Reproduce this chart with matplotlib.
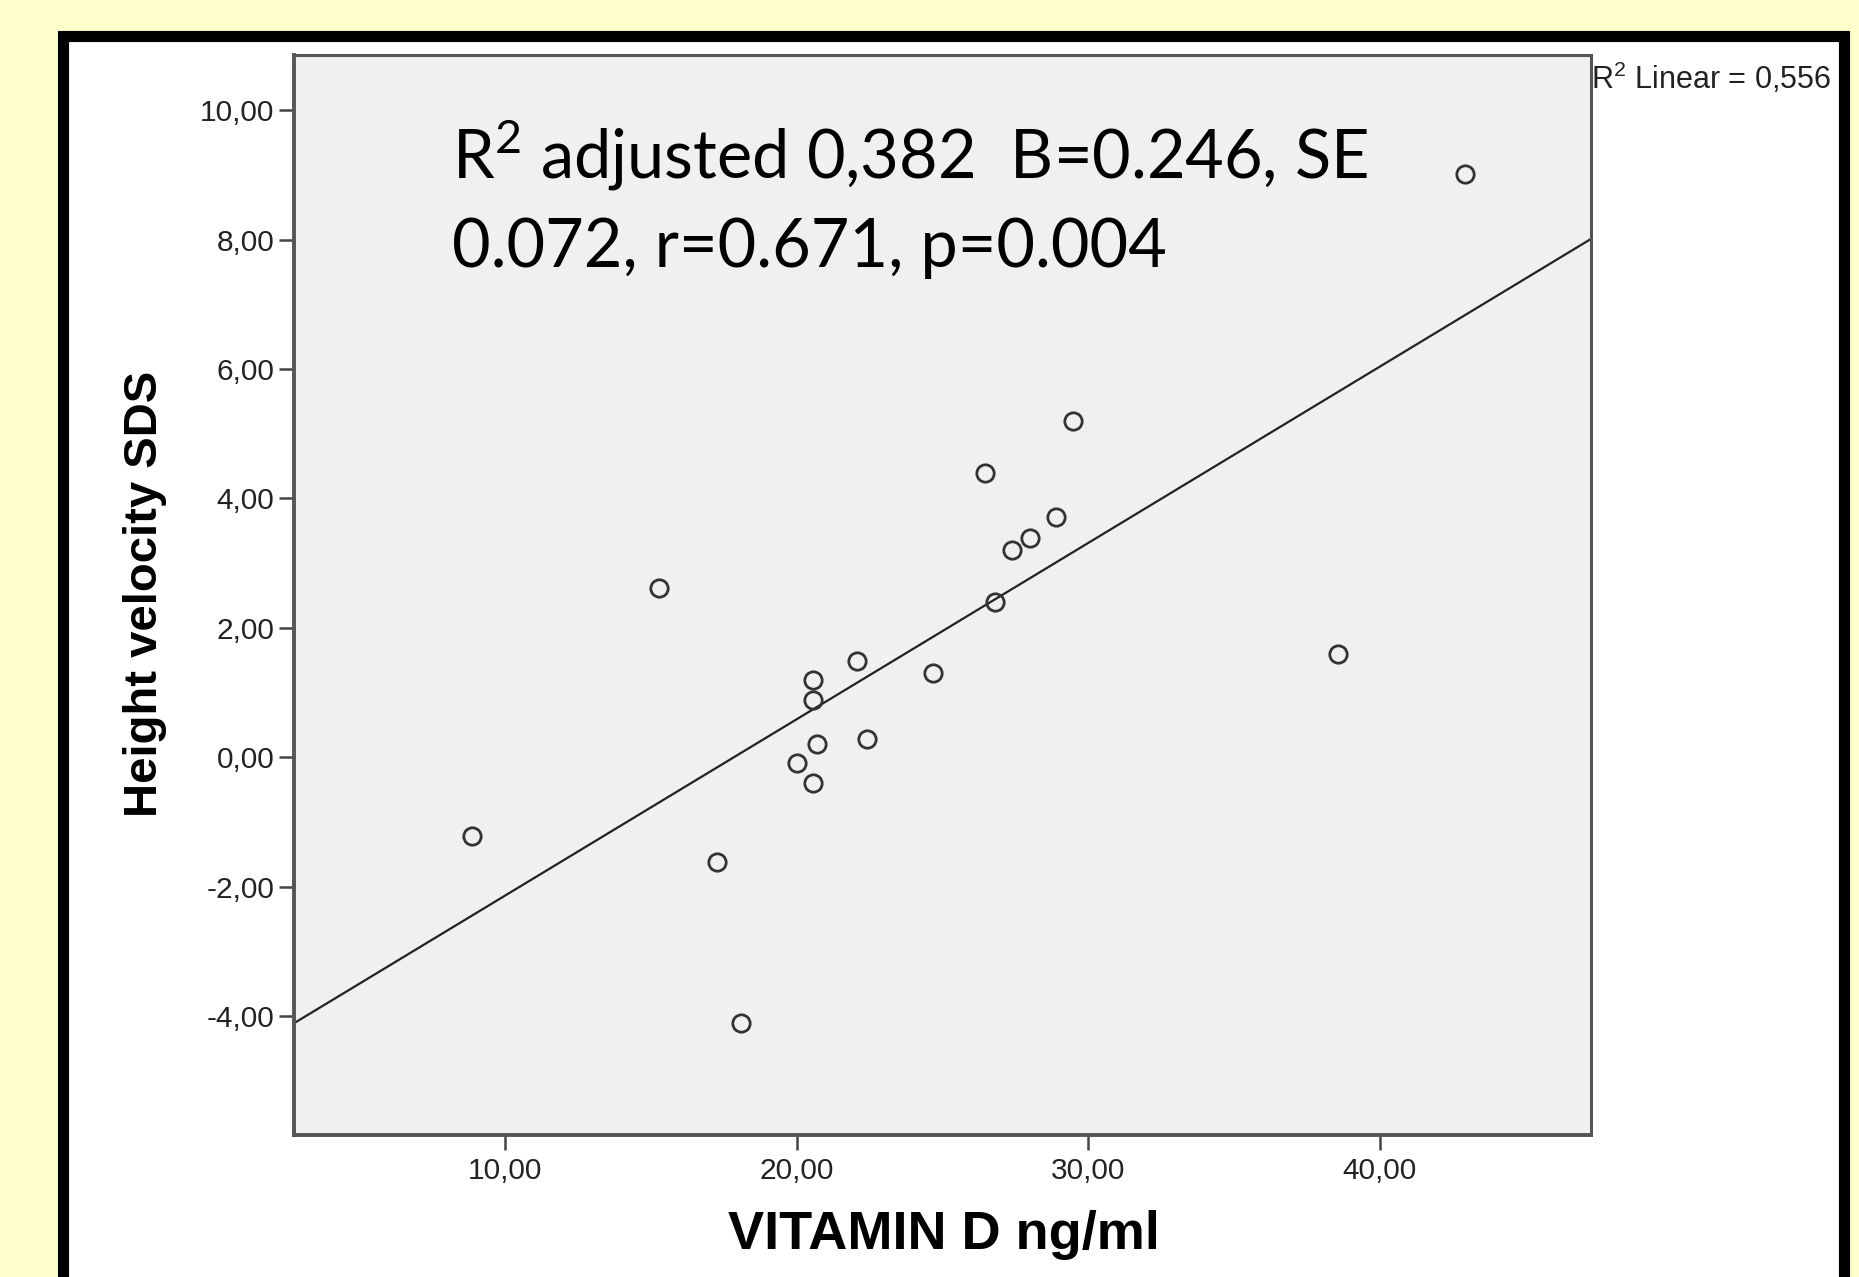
import numpy as np
import matplotlib.pyplot as plt
from matplotlib.patches import Rectangle

# values (VITAMIN D vs height velocity SDS)
vit_d = [42.93, 29.47, 26.46, 28.90, 28.01, 27.40, 15.28, 26.79, 38.58, 22.07,
         24.67, 20.57, 20.57, 20.69, 22.40, 20.00, 20.57, 8.86, 17.28, 18.09]
hv_sds = [9.01, 5.19, 4.40, 3.71, 3.39, 3.21, 2.61, 2.40, 1.60, 1.49,
          1.30, 1.19, 0.88, 0.20, 0.29, -0.09, -0.40, -1.21, -1.61, -4.11]

x_ticks = [10, 20, 30, 40]
y_ticks = [-4, -2, 0, 2, 4, 6, 8, 10]

stats_line1 = r"R$^{\mathregular{2}}$ adjusted 0,382  B=0.246, SE"
stats_line2 = "0.072, r=0.671, p=0.004"
r2_label = r"R$^{\mathregular{2}}$ Linear = 0,556"


def comma(v):
    return ("%.2f" % v).replace(".", ",")


W, H = 1859, 1277
fig = plt.figure(figsize=(W / 100, H / 100), dpi=100)
fig.patch.set_facecolor('#FFFFCC')

# black frame around the slide picture
frame = Rectangle((63 / W, -0.05), (1844 - 63) / W, 1.05 - 36 / H,
                  transform=fig.transFigure, facecolor='white',
                  edgecolor='black', linewidth=8, zorder=-5)
fig.patches.append(frame)

ax = fig.add_axes([294 / W, 1 - 1134.6 / H, (1591 - 294) / W, (1134.6 - 54.5) / H])
ax.set_facecolor('#F0F0F0')
for s in ax.spines.values():
    s.set_color('#555555')
    s.set_linewidth(2.2)
ax.spines['left'].set_linewidth(2.8)
ax.spines['bottom'].set_linewidth(2.8)

ax.set_xlim(2.76, 47.24)
ax.set_ylim(-5.83, 10.86)

# fit line
b, a = np.polyfit(vit_d, hv_sds, 1)
xx = np.linspace(2.76, 47.24, 50)
ax.plot(xx, a + b * xx, color='#222222', linewidth=1.6, zorder=2)

ax.plot(vit_d, hv_sds, linestyle='none', marker='o', markersize=12.5,
        markerfacecolor='none', markeredgecolor='#333333', markeredgewidth=2, zorder=3)

ax.set_xticks(x_ticks)
ax.set_yticks(y_ticks)
ax.set_xticklabels([comma(v) for v in x_ticks], family='Liberation Sans', fontsize=21.5, color='#222222')
ax.set_yticklabels([comma(v) for v in y_ticks], family='Liberation Sans', fontsize=21.5, color='#222222')
ax.tick_params(axis='both', direction='out', length=11, width=1.8, color='#444444')
ax.tick_params(axis='x', pad=5)
ax.tick_params(axis='y', pad=3)

ax.text(8.17, 8.95, stats_line1, family='Lato', fontsize=48, color='black', va='baseline')
ax.text(8.17, 7.58, stats_line2, family='Lato', fontsize=48, color='black', va='baseline')

fig.text(145 / W, 1 - 594 / H, "Height velocity SDS", rotation=90, ha='center', va='center',
         family='Liberation Sans', fontweight='bold', fontsize=34)
fig.text(944 / W, 1 - 1235 / H, "VITAMIN D ng/ml", ha='center', va='center',
         family='Liberation Sans', fontweight='bold', fontsize=39)
fig.text(1591 / W, 1 - 78 / H, r2_label, ha='left', va='center',
         family='Liberation Sans', fontsize=22, color='#222222')

fig.savefig('out.png', dpi=100, facecolor=fig.get_facecolor())
